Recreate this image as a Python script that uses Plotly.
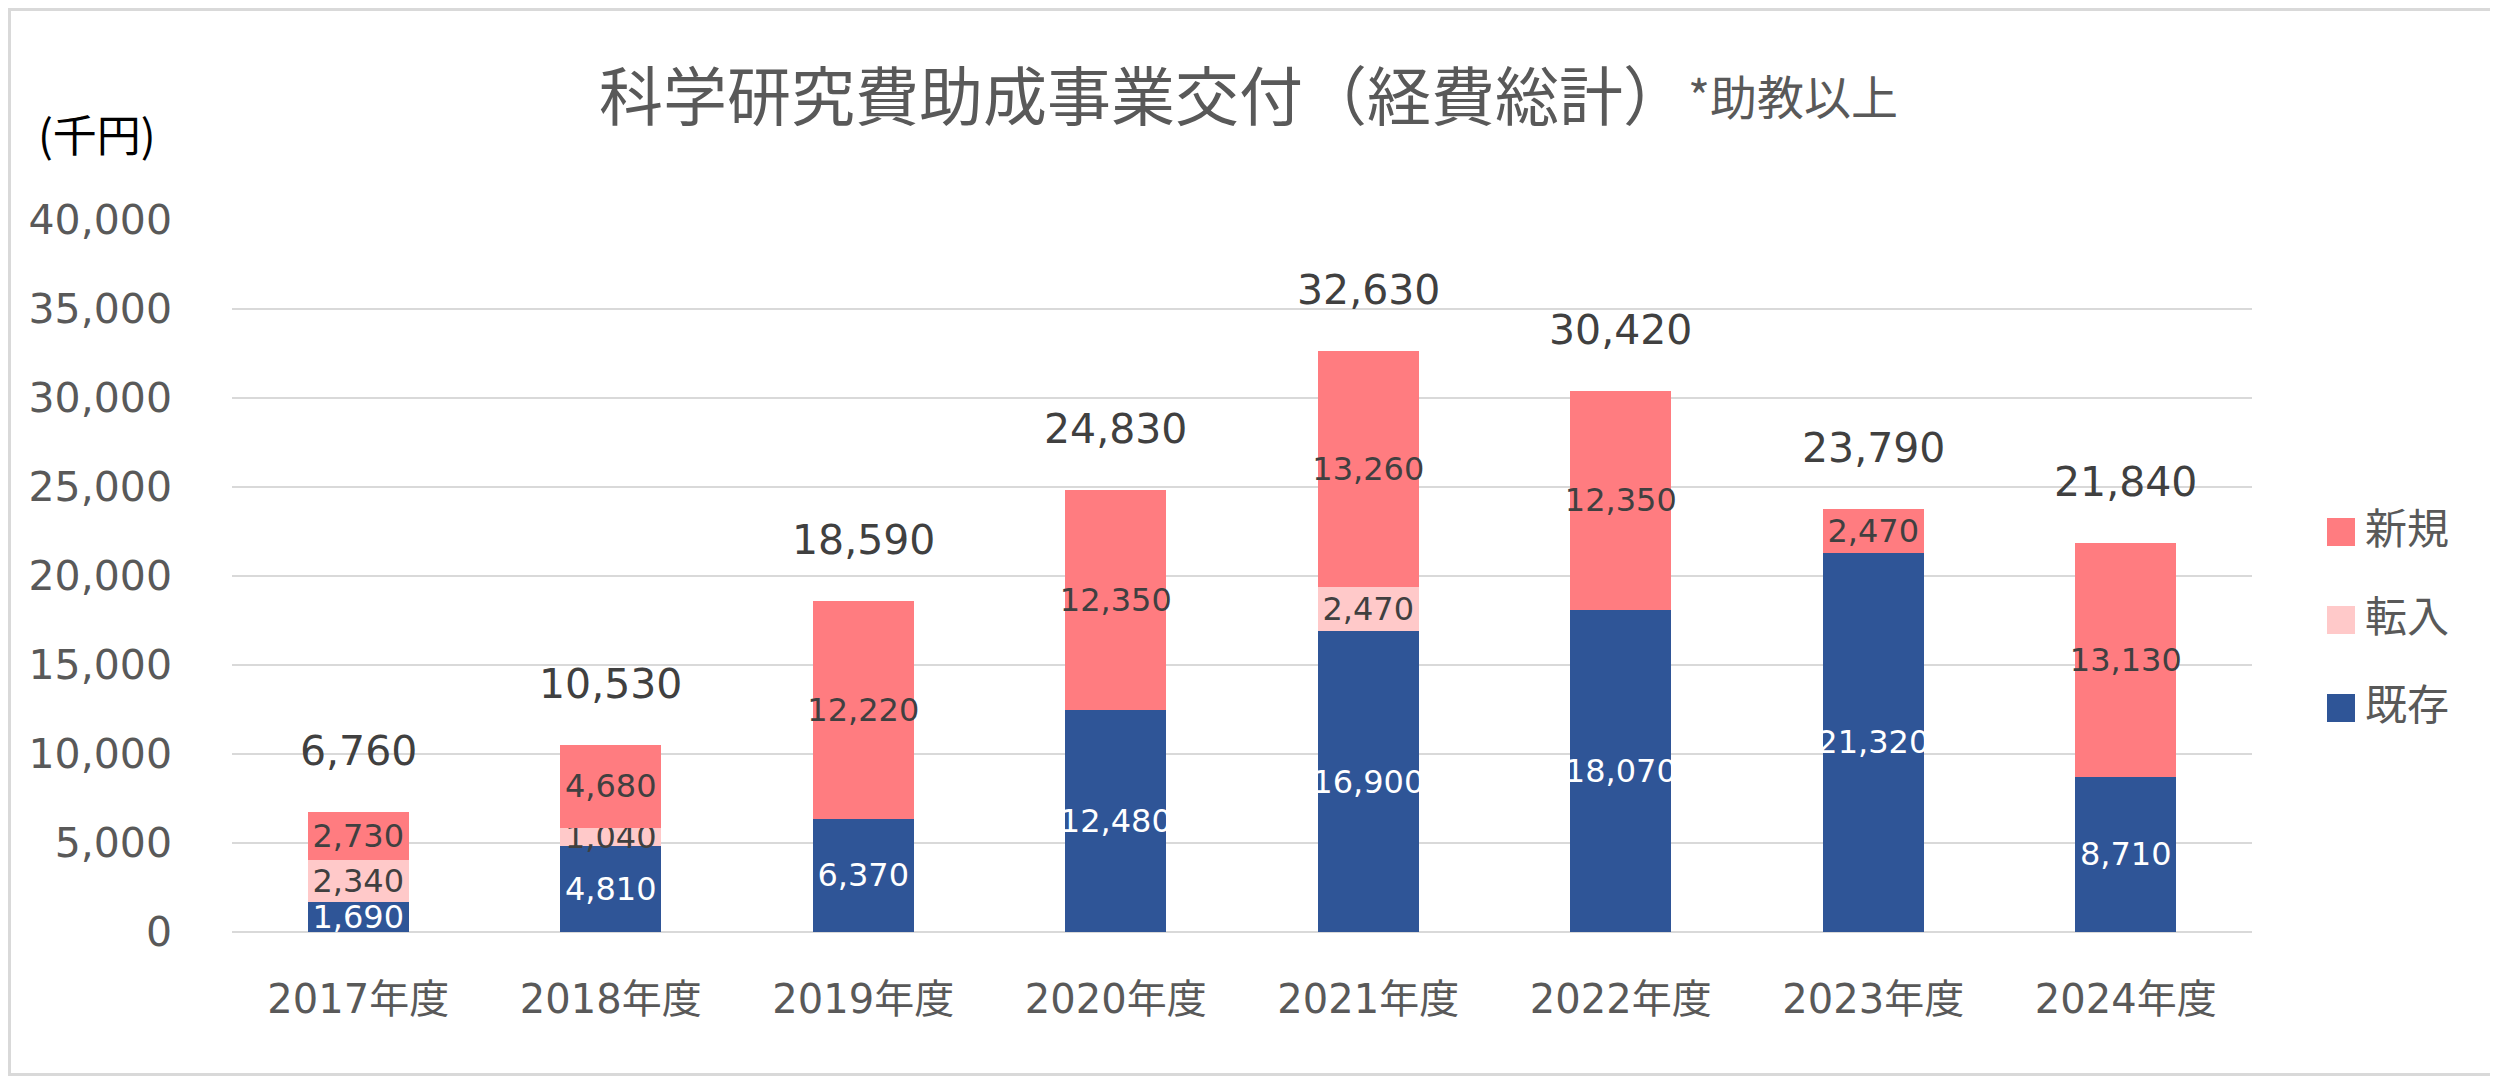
import plotly.graph_objects as go

# ---- data ----
years = ["2017年度", "2018年度", "2019年度", "2020年度", "2021年度", "2022年度", "2023年度", "2024年度"]
kizon = [1690, 4810, 6370, 12480, 16900, 18070, 21320, 8710]   # 既存
tennyu = [2340, 1040, 0, 0, 2470, 0, 0, 0]                     # 転入
shinki = [2730, 4680, 12220, 12350, 13260, 12350, 2470, 13130]  # 新規
series_names = ["既存", "転入", "新規"]
ytick_vals = [0, 5000, 10000, 15000, 20000, 25000, 30000, 35000, 40000]
title_main = "科学研究費助成事業交付（経費総計）"
title_sub = "*助教以上"
unit_label = "(千円)"

totals = [a + b + c for a, b, c in zip(kizon, tennyu, shinki)]

# ---- style ----
OFF = 8                      # default body margin of the html page
SW, SH = 2498, 1076          # screen size
W, H = SW - OFF, SH - OFF    # figure size
SPL, SPR, SPT, SPB = 232, 2252, 220, 932  # plot area, screen pixels
PL, PR, PT, PB = SPL - OFF, SPR - OFF, SPT - OFF, SPB - OFF
col_kizon = "#2F5597"
col_tennyu = "#FFC9C9"
col_shinki = "#FF7C80"
txt_dark = "#404040"
txt_gray = "#595959"
num_font = "DejaVu Sans, Noto Sans CJK JP, sans-serif"
jp_font = "Noto Sans CJK JP, sans-serif"


def px_x(sx):
    return (sx - OFF - PL) / (PR - PL)


def px_y(sy):
    return (PB - (sy - OFF)) / (PB - PT)


def lab(vals):
    return [f"{v:,}" if v else "" for v in vals]


fig = go.Figure()
for name, vals, col, tcol in [
    (series_names[0], kizon, col_kizon, "white"),
    (series_names[1], tennyu, col_tennyu, txt_dark),
    (series_names[2], shinki, col_shinki, txt_dark),
]:
    fig.add_trace(go.Bar(
        x=years, y=vals, name=name,
        marker=dict(color=col, line=dict(width=0)),
        text=lab(vals), textposition="inside", insidetextanchor="middle",
        textangle=0, constraintext="none",
        textfont=dict(family=num_font, size=32, color=tcol),
        cliponaxis=False, showlegend=False,
        hoverinfo="x+y+name",
    ))

# total labels
for yr, t in zip(years, totals):
    fig.add_annotation(x=yr, y=t, text=f"{t:,}", showarrow=False, yshift=61,
                       yanchor="middle", xanchor="center",
                       font=dict(family=num_font, size=41, color=txt_dark))

# titles
fig.add_annotation(xref="paper", yref="paper", x=px_x(597), y=px_y(92),
                   text=title_main, showarrow=False, xanchor="left", yanchor="middle",
                   font=dict(family=jp_font, size=64, color=txt_gray))
fig.add_annotation(xref="paper", yref="paper", x=px_x(1686), y=px_y(95),
                   text=title_sub, showarrow=False, xanchor="left", yanchor="middle",
                   font=dict(family=jp_font, size=47, color=txt_gray))
fig.add_annotation(xref="paper", yref="paper", x=px_x(36), y=px_y(133),
                   text=unit_label, showarrow=False, xanchor="left", yanchor="middle",
                   font=dict(family=jp_font, size=44, color="#000000"))

# manual legend (top to bottom: 新規, 転入, 既存)
legend_items = [(series_names[2], col_shinki, 532), (series_names[1], col_tennyu, 620),
                (series_names[0], col_kizon, 708)]
for name, col, cy in legend_items:
    fig.add_shape(type="rect", xref="paper", yref="paper",
                  x0=px_x(2327), x1=px_x(2355), y0=px_y(cy - 14), y1=px_y(cy + 14),
                  fillcolor=col, line=dict(width=0))
    fig.add_annotation(xref="paper", yref="paper", x=px_x(2363), y=px_y(cy - 7),
                       text=name, showarrow=False, xanchor="left", yanchor="middle",
                       font=dict(family=jp_font, size=42, color=txt_gray))

# chart border
fig.add_shape(type="rect", xref="paper", yref="paper",
              x0=px_x(OFF + 1.5), x1=px_x(SW - 1.5), y0=px_y(SH - 1.5), y1=px_y(OFF + 1.5),
              line=dict(color="#D9D9D9", width=3), fillcolor="rgba(0,0,0,0)", layer="below")

fig.update_layout(
    width=W, height=H,
    margin=dict(l=PL, r=W - PR, t=PT, b=H - PB, autoexpand=False),
    barmode="stack", bargap=0.6,
    paper_bgcolor="white", plot_bgcolor="white",
    showlegend=False,
    font=dict(family=num_font, color=txt_gray),
    xaxis=dict(showgrid=False, showline=False, zeroline=False, ticks="",
               tickfont=dict(family=num_font, size=40, color=txt_gray),
               ticklabelstandoff=40, fixedrange=True),
    yaxis=dict(range=[0, 40000], tickvals=ytick_vals, tickformat=",",
               showgrid=True, gridcolor="#D9D9D9", gridwidth=2,
               zeroline=True, zerolinecolor="#D9D9D9", zerolinewidth=2,
               showline=False, ticks="",
               tickfont=dict(family=num_font, size=41, color=txt_gray),
               ticklabelstandoff=59, fixedrange=True),
)

fig.write_html("out.html")
